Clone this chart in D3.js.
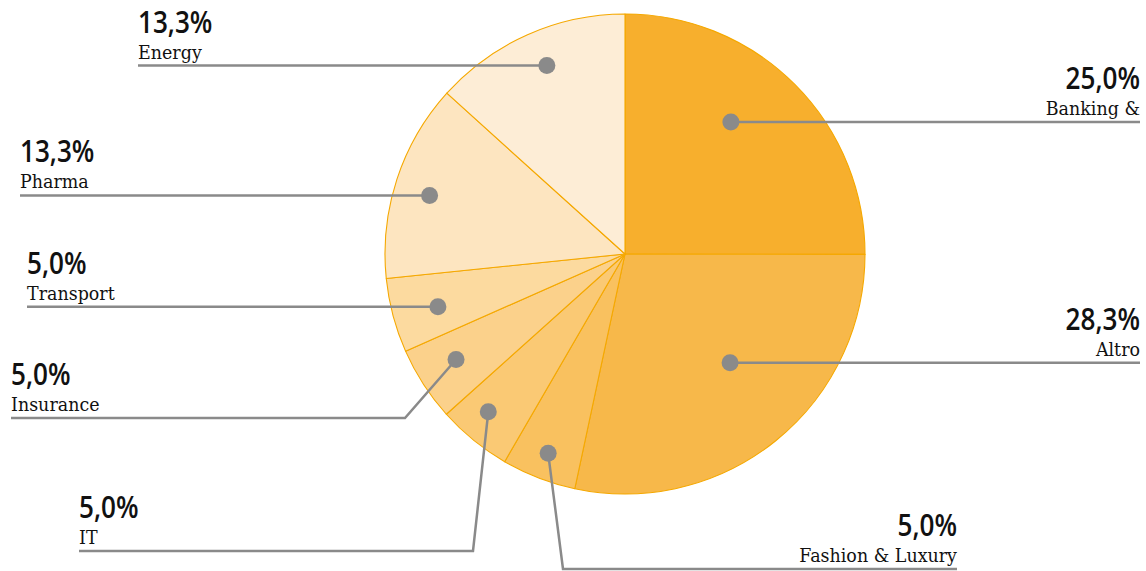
<!DOCTYPE html>
<html><head><meta charset="utf-8">
<script src="https://cdn.jsdelivr.net/npm/d3@7"></script>
<style>
html,body{margin:0;padding:0;background:#fff;}
svg{display:block;}
</style></head>
<body>
<svg id="chart" width="1146" height="571"></svg>
<script>
// ---- data ----
const categories = ["Banking &", "Altro", "Fashion & Luxury", "IT", "Insurance", "Transport", "Pharma", "Energy"];
const values = [25.0, 28.3, 5.0, 5.0, 5.0, 5.0, 13.3, 13.3];
const percentLabels = ["25,0%", "28,3%", "5,0%", "5,0%", "5,0%", "5,0%", "13,3%", "13,3%"];
const colors = ["#F7AF2D", "#F7B84A", "#F9C15F", "#FAC974", "#FBD18B", "#FCDA9F", "#FDE5C0", "#FDEDD6"];

// ---- label layout (annotation placement, not data) ----
const labelLayout = [
  {t:0.43, rf:0.705, x:1140, anchor:"end"},
  {t:0.45, rf:0.63,  x:1140, anchor:"end"},
  {t:0.50, rf:0.89,  x:957,  anchor:"end",   lineY:569, elbowX:563},
  {t:0.60, rf:0.87,  x:79,   anchor:"start", lineY:551, elbowX:473},
  {t:0.55, rf:0.83,  x:11,   anchor:"start", lineY:418, elbowX:405},
  {t:0.45, rf:0.81,  x:27,   anchor:"start"},
  {t:0.47, rf:0.85,  x:20,   anchor:"start"},
  {t:0.53, rf:0.85,  x:138,  anchor:"start"}
];

const svg = d3.select("#chart");
const cx = 625, cy = 254, R = 240;
const g = svg.append("g").attr("transform", `translate(${cx},${cy})`);

const data = categories.map((c,i)=>({name:c, value:values[i], pct:percentLabels[i], color:colors[i], lay:labelLayout[i]}));
const pie = d3.pie().sort(null).value(d=>d.value).startAngle(0).endAngle(2*Math.PI);
const arcs = pie(data);
const arc = d3.arc().innerRadius(0).outerRadius(R);

g.selectAll("path.slice").data(arcs).join("path")
  .attr("class","slice")
  .attr("d", arc)
  .attr("fill", d=>d.data.color)
  .attr("stroke", "#F5A800")
  .attr("stroke-width", 1.1)
  .attr("stroke-linejoin","round");

const lineColor = "#8a8a8a";
const ann = svg.append("g");

arcs.forEach(a=>{
  const L = a.data.lay;
  const ang = a.startAngle + (a.endAngle - a.startAngle)*L.t;
  const r = R*L.rf;
  const dx = cx + r*Math.sin(ang);
  const dy = cy - r*Math.cos(ang);
  const ly = L.lineY !== undefined ? L.lineY : dy;
  let pts;
  if (L.elbowX !== undefined) {
    pts = [[dx,dy],[L.elbowX,ly],[L.x,ly]];
  } else {
    pts = [[dx,dy],[L.x,ly]];
  }
  ann.append("path")
    .attr("d", d3.line()(pts))
    .attr("fill","none")
    .attr("stroke", lineColor)
    .attr("stroke-width", 2.5);
  ann.append("circle")
    .attr("cx", dx).attr("cy", dy).attr("r", 8.5)
    .attr("fill", lineColor);

  ann.append("text")
    .attr("transform", `translate(${L.x},${ly-33}) scale(0.87,1)`)
    .attr("text-anchor", L.anchor)
    .attr("font-family", "'Open Sans', 'Noto Sans', sans-serif")
    .attr("font-weight", 600)
    .attr("font-size", 30)
    .attr("fill", "#111")
    .text(a.data.pct);
  ann.append("text")
    .attr("transform", `translate(${L.x},${ly-7}) scale(0.92,1)`)
    .attr("text-anchor", L.anchor)
    .attr("font-family", "'DejaVu Serif', serif")
    .attr("font-size", 19)
    .attr("fill", "#111")
    .text(a.data.name);
});
</script>
</body></html>
